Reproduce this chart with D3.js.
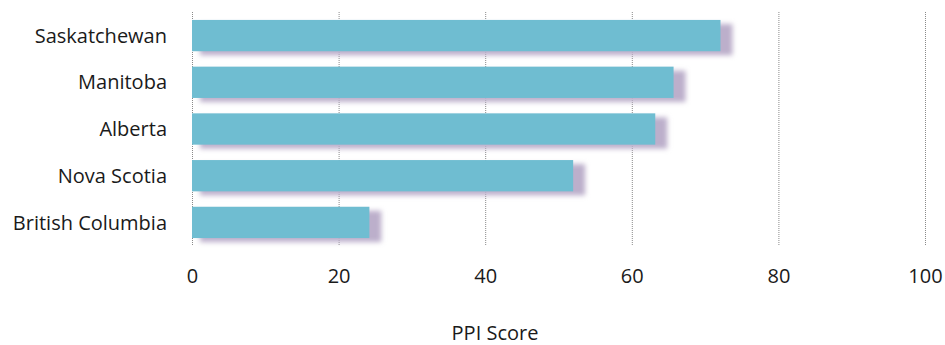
<!DOCTYPE html>
<html>
<head>
<meta charset="utf-8">
<script src="https://cdn.jsdelivr.net/npm/d3@7"></script>
<style>
  html, body { margin: 0; padding: 0; background: #fff; }
  svg { display: block; font-family: "Open Sans", "Noto Sans", sans-serif; }
</style>
</head>
<body>
<svg id="chart" width="945" height="345"></svg>
<script>
// Provinces ranked by PPI score
const provinces = ["Saskatchewan", "Manitoba", "Alberta", "Nova Scotia", "British Columbia"];
const scores = [72.1, 65.7, 63.2, 52.0, 24.2];
const xTicks = [0, 20, 40, 60, 80, 100];
const xTitle = "PPI Score";

(function () {
  const svg = d3.select("#chart");
  const plotL = 192, plotR = 925, plotT = 12, plotB = 246;
  const fontSize = 20;

  const x = d3.scaleLinear().domain([0, 100]).range([plotL, plotR]);
  const y = d3.scaleBand().domain(provinces).range([plotT, plotB])
    .paddingInner(0.33).paddingOuter(0.17);

  // soft purple drop shadow behind each bar
  const defs = svg.append("defs");
  const f = defs.append("filter").attr("id", "shadow")
    .attr("x", "-10%").attr("y", "-40%").attr("width", "130%").attr("height", "180%");
  f.append("feGaussianBlur").attr("stdDeviation", 2.4);

  // dotted vertical gridlines
  svg.append("g").selectAll("line").data(xTicks).join("line")
    .attr("x1", d => x(d) + 0.5).attr("x2", d => x(d) + 0.5)
    .attr("y1", plotT).attr("y2", plotB)
    .attr("stroke", "#8a8a8a").attr("stroke-width", 1)
    .attr("stroke-dasharray", "1,1");

  const rows = provinces.map((p, i) => ({ p, v: scores[i] }));

  svg.append("g").selectAll("rect").data(rows).join("rect")
    .attr("x", x(0) + 8).attr("y", d => y(d.p) + 4)
    .attr("width", d => x(d.v) - x(0) + 4).attr("height", y.bandwidth())
    .attr("fill", "#bcafcb").attr("filter", "url(#shadow)");

  svg.append("g").selectAll("rect").data(rows).join("rect")
    .attr("x", x(0)).attr("y", d => y(d.p))
    .attr("width", d => x(d.v) - x(0)).attr("height", y.bandwidth())
    .attr("fill", "#6fbdd1");

  // category labels
  svg.append("g").selectAll("text").data(provinces).join("text")
    .attr("x", 167).attr("y", d => y(d) + y.bandwidth() / 2)
    .attr("dy", "0.36em").attr("text-anchor", "end")
    .attr("font-size", fontSize).attr("fill", "#1a1a1a").text(d => d);

  // x-axis tick labels
  const xAxis = d3.axisBottom(x).tickValues(xTicks).tickSize(0).tickPadding(0);
  const ax = svg.append("g").attr("transform", "translate(0, 283)").call(xAxis);
  ax.select(".domain").remove();
  ax.selectAll("text").attr("font-size", fontSize).attr("fill", "#1a1a1a")
    .attr("font-family", "\"Open Sans\", sans-serif").attr("dy", 0);

  svg.append("text").attr("x", 495).attr("y", 340).attr("text-anchor", "middle")
    .attr("font-size", fontSize).attr("fill", "#1a1a1a").text(xTitle);
})();
</script>
</body>
</html>
